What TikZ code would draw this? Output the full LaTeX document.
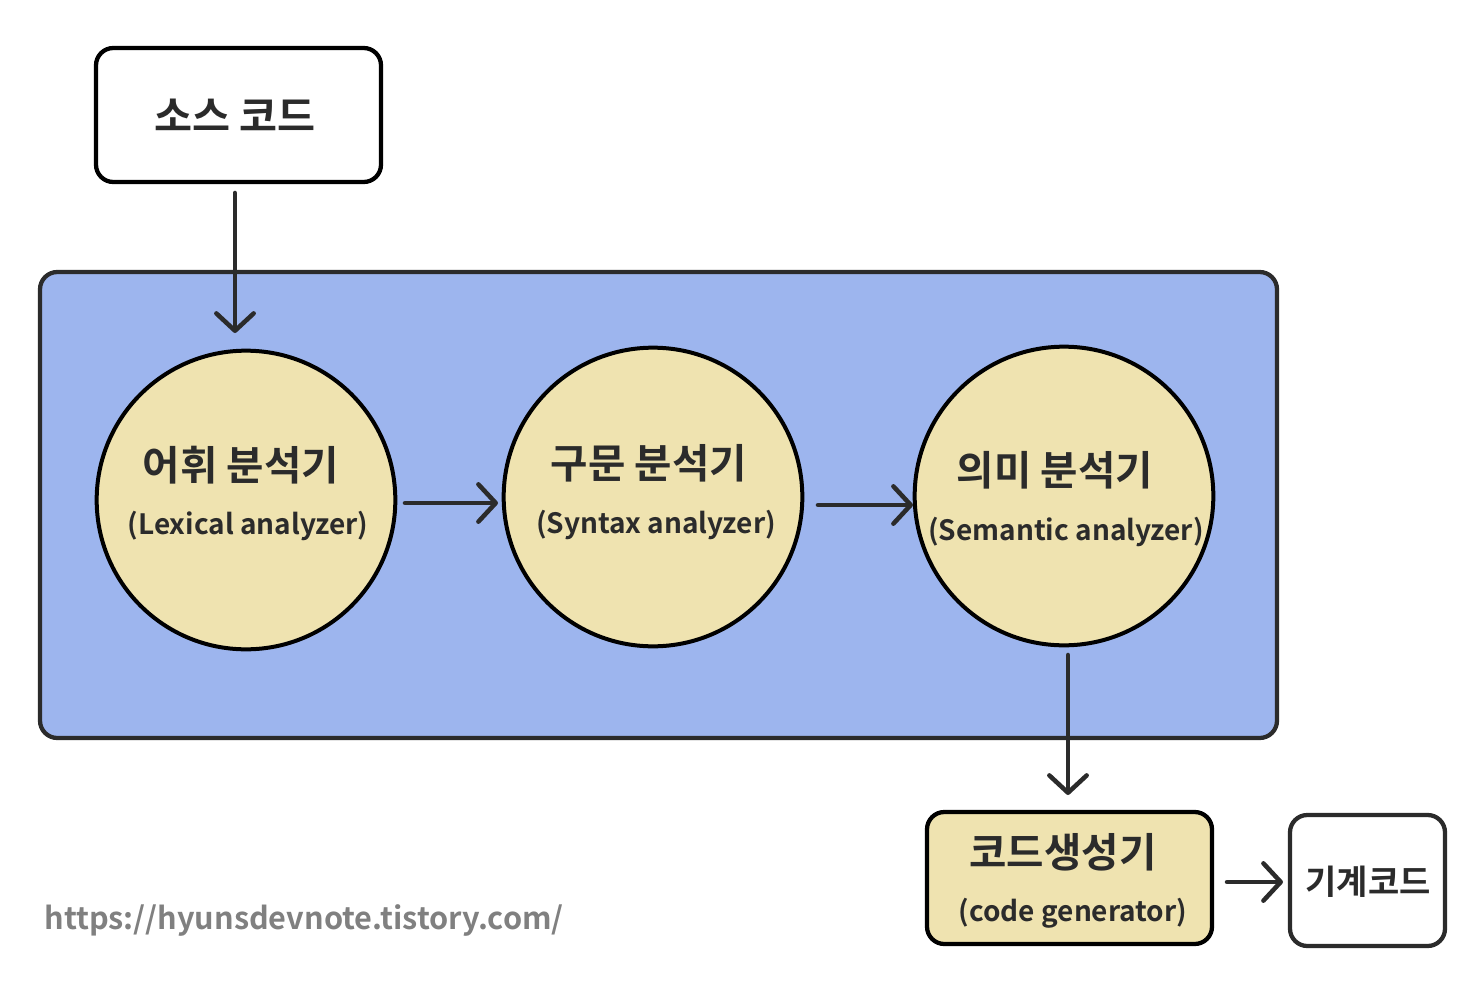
\documentclass[tikz,border=0pt]{standalone}
\usepackage{fontspec}
\setmainfont{Noto Sans CJK KR}[BoldFont={Noto Sans CJK KR Bold}]
\usetikzlibrary{arrows.meta}
\definecolor{bluebg}{HTML}{9DB5EE}
\definecolor{cream}{HTML}{EFE3B0}
\definecolor{ink}{HTML}{2B2B2B}
\definecolor{urlgray}{HTML}{808080}
\begin{document}
\begin{tikzpicture}[x=0.75pt,y=-0.75pt,
  box/.style={draw=black,line width=3.2pt,rounded corners=13pt,inner sep=0pt},
  stage/.style={circle,draw=black,line width=3pt,fill=cream,minimum size=224pt,inner sep=0pt},
  flow/.style={draw=ink,line width=3.4pt,line cap=round,-{Straight Barb[length=13pt,width=28pt,line width=3.4pt,round]}},
  kor/.style={font=\bfseries\fontsize{30.5}{34}\selectfont,text=ink,inner sep=0pt},
  eng/.style={font=\bfseries\fontsize{21}{24}\selectfont,text=ink,inner sep=0pt}]
\useasboundingbox (0,0) rectangle (1470,992);
\node[box,fill=white,minimum width=213.75pt,minimum height=100.5pt] (src) at (238.5,115) {};
\node[kor,font=\bfseries\fontsize{31}{34}\selectfont] (srct) at (235,115) {소스 코드};
\node[box,draw=ink,fill=bluebg,minimum width=927.75pt,minimum height=349.5pt] (frame) at (658.5,505) {};
\node[stage] (lex) at (246,500) {};
\node[stage] (syn) at (653,497) {};
\node[stage] (sem) at (1064,496) {};
\node[kor] (lext) at (241,465) {어휘 분석기};
\node[eng] (lexe) at (248,526) {(Lexical analyzer)};
\node[kor] (synt) at (649,463) {구문 분석기};
\node[eng] (syne) at (656,525) {(Syntax analyzer)};
\node[kor] (semt) at (1055,470) {의미 분석기};
\node[eng] (seme) at (1066,532) {(Semantic analyzer)};
\node[box,fill=cream,minimum width=213.75pt,minimum height=99pt] (gen) at (1069.5,878) {};
\node[kor] (gent) at (1063,852) {코드생성기};
\node[eng] (gene) at (1073,913) {(code generator)};
\node[box,draw=ink,fill=white,minimum width=116.25pt,minimum height=98.25pt] (mach) at (1367.5,880.5) {};
\node[kor,font=\bfseries\fontsize{25.5}{30}\selectfont] (macht) at (1368,882) {기계코드};
\node[font=\bfseries\fontsize{23}{27}\selectfont,text=urlgray,inner sep=0pt] (url) at (304,920) {https://hyunsdevnote.tistory.com/};
\coordinate (a1s) at (235,193); \coordinate (a1e) at (235,333);
\coordinate (a2s) at (405,503); \coordinate (a2e) at (498,503);
\coordinate (a3s) at (818,505); \coordinate (a3e) at (913,505);
\coordinate (a4s) at (1068,655); \coordinate (a4e) at (1068,795);
\coordinate (a5s) at (1227,882); \coordinate (a5e) at (1283,882);
\draw[flow] (a1s) -- (a1e);
\draw[flow] (a2s) -- (a2e);
\draw[flow] (a3s) -- (a3e);
\draw[flow] (a4s) -- (a4e);
\draw[flow] (a5s) -- (a5e);
\end{tikzpicture}
\end{document}
